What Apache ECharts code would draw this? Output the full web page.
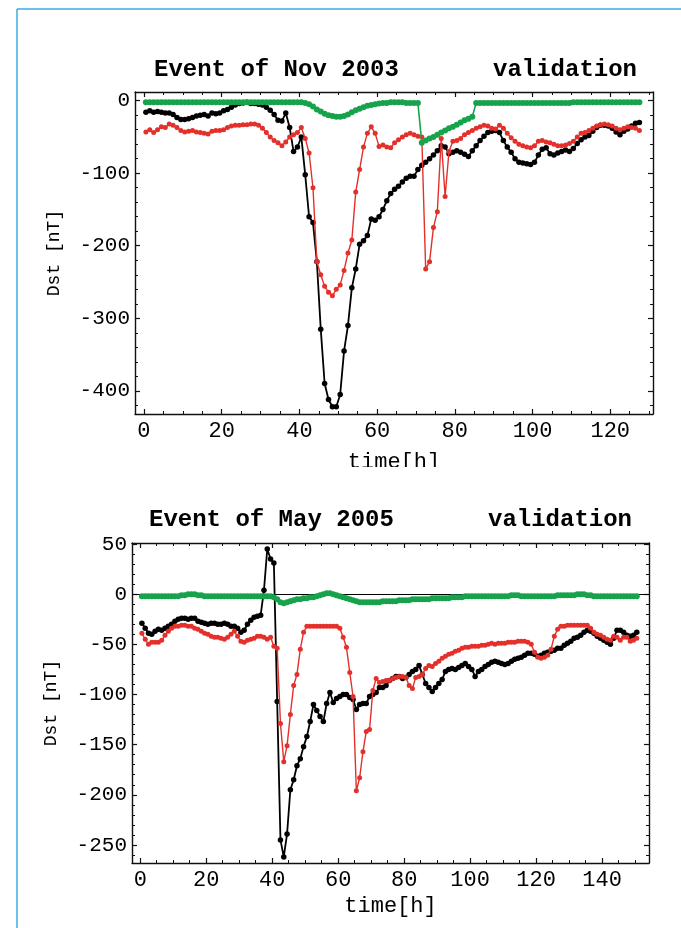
<!DOCTYPE html>
<html><head><meta charset="utf-8">
<script src="https://cdn.jsdelivr.net/npm/echarts/dist/echarts.min.js"></script>
<style>html,body{margin:0;padding:0;background:#fff}#c{width:681px;height:928px}</style>
</head><body><div id="c"></div>
<script>
// ---------- data ----------
const topTitle = 'Event of Nov 2003';
const botTitle = 'Event of May 2005';
const tagText = 'validation';
const yName = 'Dst [nT]';
const xName = 'time[h]';

const topXTicks = [0, 20, 40, 60, 80, 100, 120];
const topYTicks = [0, -100, -200, -300, -400];
const botXTicks = [0, 20, 40, 60, 80, 100, 120, 140];
const botYTicks = [50, 0, -50, -100, -150, -200, -250];

const topStart = 0.5;   // first sample time [h], hourly samples
const botStart = 0.5;

// Nov 2003: observed Dst (black)
const topBlack = [
 -16,-14,-16,-15,-16,-17,-17,-19,-23,-26,
 -26,-25,-23,-21,-20,-19,-21,-17,-18,-17,
 -14,-12,-9,-6,-4,-3,-2,-4,-4,-5,
 -6,-9,-13,-19,-27,-28,-17,-37,-70,-64,
 -50,-102,-160,-168,-222,-315,-390,-412,-422,-422,
 -405,-345,-310,-258,-232,-198,-193,-186,-163,-165,
 -160,-150,-138,-128,-122,-118,-112,-107,-104,-104,
 -95,-89,-85,-80,-75,-69,-62,-64,-73,-71,
 -69,-71,-74,-77,-69,-62,-55,-49,-44,-42,
 -41,-44,-55,-64,-71,-80,-85,-86,-87,-88,
 -85,-75,-67,-65,-73,-75,-72,-70,-68,-70,
 -66,-59,-54,-50,-48,-42,-37,-34,-34,-35,
 -38,-43,-47,-42,-39,-35,-31,-30];
// Nov 2003: model (red)
const topRed = [
 -43,-40,-44,-40,-36,-37,-32,-34,-37,-41,
 -43,-42,-41,-43,-44,-45,-46,-42,-41,-41,
 -40,-37,-35,-34,-34,-33,-33,-32,-32,-34,
 -38,-44,-50,-55,-58,-62,-57,-50,-47,-44,
 -37,-52,-72,-120,-222,-240,-256,-264,-269,-260,
 -254,-234,-210,-192,-126,-95,-64,-45,-36,-45,
 -63,-61,-64,-65,-58,-54,-50,-47,-45,-47,
 -49,-50,-232,-222,-175,-153,-52,-132,-70,-56,
 -55,-52,-47,-44,-41,-38,-36,-34,-35,-38,
 -39,-34,-38,-45,-51,-56,-60,-62,-64,-65,
 -62,-56,-55,-57,-58,-60,-62,-62,-61,-59,
 -56,-50,-45,-44,-41,-38,-35,-33,-32,-33,
 -35,-38,-40,-38,-36,-37,-38,-41];
// Nov 2003: green
const topGreen = [
 -2,-2,-2,-2,-2,-2,-2,-2,-2,-2,
 -2,-2,-2,-2,-2,-2,-2,-2,-2,-2,
 -2,-2,-2,-2,-2,-2,-2,-2,-2,-2,
 -2,-2,-2,-2,-2,-2,-2,-2,-2,-2,
 -2,-3,-5,-8,-12,-15,-18,-20,-21,-22,
 -22,-21,-19,-16,-13,-11,-9,-7,-6,-5,
 -4,-3,-3,-2,-2,-2,-2,-3,-3,-3,
 -3,-58,-55,-52,-50,-47,-44,-41,-38,-36,
 -33,-30,-27,-25,-22,-3,-3,-3,-3,-3,
 -3,-3,-3,-3,-3,-3,-3,-3,-3,-3,
 -3,-3,-3,-3,-3,-3,-3,-3,-3,-3,
 -2,-2,-2,-2,-2,-2,-2,-2,-2,-2,
 -2,-2,-2,-2,-2,-2,-2,-2];

// May 2005: observed Dst (black)
const botBlack = [
 -29,-34,-39,-40,-37,-35,-36,-34,-32,-30,
 -27,-25,-24,-24,-25,-24,-24,-27,-28,-29,
 -30,-29,-29,-30,-30,-29,-30,-32,-32,-34,
 -38,-36,-30,-26,-23,-22,-21,4,45,35,
 31,-107,-245,-262,-239,-195,-185,-171,-164,-152,
 -142,-127,-110,-116,-122,-127,-109,-98,-108,-104,
 -102,-100,-100,-103,-105,-115,-110,-109,-109,-102,
 -100,-98,-93,-93,-91,-86,-84,-82,-82,-84,
 -83,-80,-77,-75,-71,-80,-89,-93,-97,-93,
 -89,-85,-77,-75,-74,-75,-73,-71,-69,-72,
 -75,-82,-77,-75,-72,-70,-68,-67,-68,-69,
 -70,-69,-67,-65,-64,-63,-61,-59,-59,-60,
 -62,-61,-59,-58,-57,-56,-54,-54,-51,-49,
 -47,-44,-43,-41,-38,-36,-37,-39,-42,-44,
 -46,-48,-50,-44,-36,-36,-38,-41,-42,-41,
 -38];
// May 2005: model (red)
const botRed = [
 -39,-45,-50,-48,-48,-48,-46,-41,-37,-34,
 -32,-32,-31,-31,-32,-32,-34,-35,-37,-39,
 -40,-42,-43,-43,-44,-45,-43,-40,-37,-42,
 -47,-48,-46,-45,-44,-42,-42,-43,-45,-43,
 -52,-54,-129,-167,-151,-120,-91,-80,-55,-38,
 -32,-32,-32,-32,-32,-32,-32,-32,-32,-32,
 -34,-43,-53,-78,-102,-196,-183,-157,-137,-135,
 -96,-84,-88,-87,-86,-86,-84,-83,-82,-82,
 -83,-91,-94,-83,-82,-80,-74,-71,-72,-69,
 -67,-64,-62,-60,-59,-57,-56,-54,-53,-53,
 -52,-52,-52,-51,-51,-50,-49,-50,-49,-49,
 -49,-48,-48,-48,-47,-47,-47,-48,-50,-58,
 -63,-64,-63,-61,-55,-42,-35,-32,-32,-31,
 -31,-31,-31,-31,-31,-31,-34,-38,-40,-41,
 -43,-45,-46,-42,-43,-46,-43,-43,-47,-46,
 -44];
// May 2005: green
const botGreen = [
 -2,-2,-2,-2,-2,-2,-2,-2,-2,-2,
 -2,-2,-1,-1,0,0,0,-1,-1,-2,
 -2,-2,-2,-2,-2,-2,-2,-2,-2,-2,
 -2,-2,-2,-2,-2,-2,-2,-2,-2,-2,
 -3,-5,-8,-9,-8,-7,-6,-5,-5,-4,
 -4,-3,-3,-2,-1,0,1,1,0,-1,
 -2,-3,-4,-5,-6,-7,-8,-8,-8,-8,
 -8,-8,-8,-7,-7,-7,-7,-7,-6,-6,
 -6,-6,-5,-5,-5,-5,-5,-5,-4,-4,
 -4,-4,-4,-4,-3,-3,-3,-3,-2,-2,
 -2,-2,-2,-2,-2,-2,-2,-2,-2,-2,
 -2,-2,-1,-1,-1,-2,-2,-2,-2,-2,
 -2,-2,-2,-2,-2,-2,-1,-1,-1,-1,
 -1,-1,0,0,0,-1,-1,-2,-2,-2,
 -2,-2,-2,-2,-2,-2,-2,-2,-2,-2,
 -2];

// ---------- chart ----------
const FONT = '"Liberation Mono", "Courier New", monospace';
const AX = '#111111';
const BLACK = '#000000', RED = '#e3302b', GREEN = '#17a24c';

function pairs(start, vals) { return vals.map((v, i) => [start + i, v]); }
function minorOf(major, step, lo, hi) {
  const out = [];
  for (let v = Math.ceil(lo / step) * step; v <= hi; v += step) {
    if (major.indexOf(v) < 0) out.push(v);
  }
  return out;
}

function xAxes(gi, min, max, major, minorStep, nameGap) {
  const minor = minorOf(major, minorStep, min, max);
  const base = {gridIndex: gi, type: 'value', min: min, max: max, splitLine: {show: false}};
  return [
    Object.assign({}, base, {position: 'bottom',
      axisLine: {show: true, onZero: false, lineStyle: {color: AX, width: 1.4}},
      axisTick: {show: true, inside: true, length: 5, customValues: major, lineStyle: {color: AX, width: 1.2}},
      axisLabel: {show: true, customValues: major, margin: 6, fontFamily: FONT, fontSize: 22, color: '#000'},
      name: xName, nameLocation: 'middle', nameGap: nameGap,
      nameTextStyle: {fontFamily: FONT, fontSize: 22, color: '#000'}}),
    Object.assign({}, base, {position: 'bottom',
      axisLine: {show: false, onZero: false},
      axisTick: {show: true, inside: true, length: 3, customValues: minor, lineStyle: {color: AX, width: 1}},
      axisLabel: {show: false}}),
    Object.assign({}, base, {position: 'top',
      axisLine: {show: true, onZero: false, lineStyle: {color: AX, width: 1.4}},
      axisTick: {show: true, inside: true, length: 5, customValues: major, lineStyle: {color: AX, width: 1.2}},
      axisLabel: {show: false}}),
    Object.assign({}, base, {position: 'top',
      axisLine: {show: false, onZero: false},
      axisTick: {show: true, inside: true, length: 3, customValues: minor, lineStyle: {color: AX, width: 1}},
      axisLabel: {show: false}})
  ];
}
function yAxes(gi, min, max, major, minorStep, nameGap) {
  const minor = minorOf(major, minorStep, min, max);
  const base = {gridIndex: gi, type: 'value', min: min, max: max, splitLine: {show: false}};
  return [
    Object.assign({}, base, {position: 'left',
      axisLine: {show: true, onZero: false, lineStyle: {color: AX, width: 1.4}},
      axisTick: {show: true, inside: true, length: 5, customValues: major, lineStyle: {color: AX, width: 1.2}},
      axisLabel: {show: true, customValues: major, margin: 5, fontFamily: FONT, fontSize: 21, color: '#000'},
      name: yName, nameLocation: 'middle', nameGap: nameGap, nameRotate: 90,
      nameTextStyle: {fontFamily: FONT, fontSize: 18, color: '#000'}}),
    Object.assign({}, base, {position: 'left',
      axisLine: {show: false, onZero: false},
      axisTick: {show: true, inside: true, length: 3, customValues: minor, lineStyle: {color: AX, width: 1}},
      axisLabel: {show: false}}),
    Object.assign({}, base, {position: 'right',
      axisLine: {show: true, onZero: false, lineStyle: {color: AX, width: 1.4}},
      axisTick: {show: true, inside: true, length: 5, customValues: major, lineStyle: {color: AX, width: 1.2}},
      axisLabel: {show: false}}),
    Object.assign({}, base, {position: 'right',
      axisLine: {show: false, onZero: false},
      axisTick: {show: true, inside: true, length: 3, customValues: minor, lineStyle: {color: AX, width: 1}},
      axisLabel: {show: false}})
  ];
}

function lineSeries(xi, yi, data, color, lw, size, z, extra) {
  return Object.assign({
    type: 'line', xAxisIndex: xi, yAxisIndex: yi, data: data,
    symbol: 'circle', symbolSize: size, showSymbol: true,
    lineStyle: {color: color, width: lw}, itemStyle: {color: color, borderWidth: 0},
    z: z, animation: false, silent: true, clip: true
  }, extra || {});
}

const zeroLine = {
  silent: true, symbol: 'none', animation: false,
  label: {show: false},
  lineStyle: {color: '#000', width: 1, type: 'solid'},
  data: [{yAxis: 0}]
};

const titleStyle = {fontFamily: FONT, fontSize: 24, fontWeight: 'bold', color: '#000'};

const option = {
  backgroundColor: '#ffffff',
  animation: false,
  title: [
    {text: topTitle, left: 154, top: 58, padding: 0, textStyle: titleStyle},
    {text: tagText, right: 44, top: 58, padding: 0, textStyle: titleStyle},
    {text: botTitle, left: 149, top: 508, padding: 0, textStyle: titleStyle},
    {text: tagText, right: 49, top: 508, padding: 0, textStyle: titleStyle}
  ],
  grid: [
    {left: 135, right: 28, top: 92, height: 322, containLabel: false},
    {left: 132, right: 32, top: 543, height: 320, containLabel: false}
  ],
  xAxis: [].concat(
    xAxes(0, -2.3, 131, topXTicks, 5, 37),
    xAxes(1, -2.5, 154.2, botXTicks, 5, 32)
  ),
  yAxis: [].concat(
    yAxes(0, -432, 12, topYTicks, 20, 72),
    yAxes(1, -268, 51, botYTicks, 10, 72)
  ),
  series: [
    lineSeries(0, 0, pairs(topStart, topBlack), BLACK, 1.8, 5.5, 3),
    lineSeries(0, 0, pairs(topStart, topRed), RED, 1.4, 5, 4),
    lineSeries(0, 0, pairs(topStart, topGreen), GREEN, 1.6, 6, 5),
    lineSeries(4, 4, pairs(botStart, botBlack), BLACK, 1.8, 5.5, 3, {markLine: zeroLine}),
    lineSeries(4, 4, pairs(botStart, botRed), RED, 1.4, 5, 4),
    lineSeries(4, 4, pairs(botStart, botGreen), GREEN, 1.6, 6, 5)
  ],
  graphic: [
    {type: 'rect', silent: true, z: 100, shape: {x: 280, y: 467, width: 240, height: 22}, style: {fill: '#ffffff'}},
    {type: 'line', silent: true, z: 100, shape: {x1: 17, y1: 9, x2: 681, y2: 9}, style: {stroke: '#3aaee2', lineWidth: 1.5}},
    {type: 'line', silent: true, z: 100, shape: {x1: 17, y1: 9, x2: 17, y2: 928}, style: {stroke: '#3aaee2', lineWidth: 1.5}}
  ]
};

const chart = echarts.init(document.getElementById('c'), null, {renderer: 'canvas'});
chart.setOption(option);
</script></body></html>
